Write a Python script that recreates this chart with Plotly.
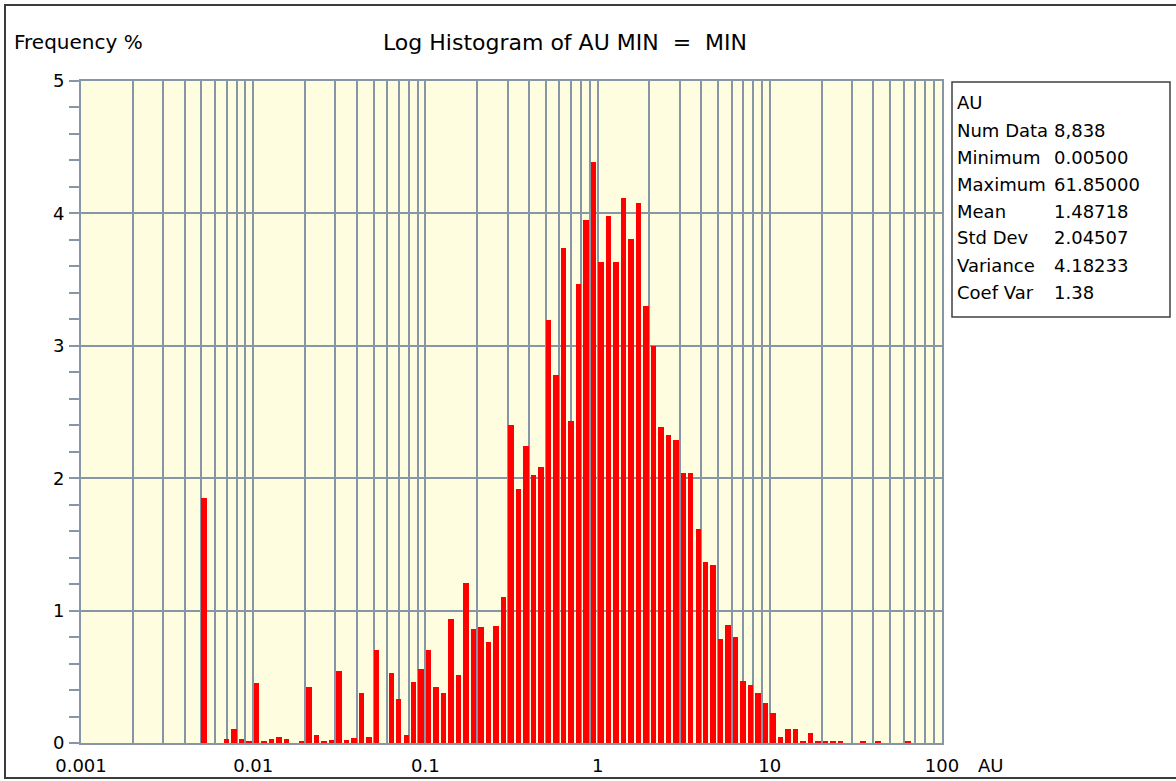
import math
import plotly.graph_objects as go

# ---------------- data ----------------
bin_start = 0.005          # lower edge of first bin (AU)
bins_per_decade = 23       # log bins per decade
freq_pct = [
    1.85, 0, 0, 0.03, 0.105, 0.03, 0.015, 0.455, 0.01, 0.03,
    0.045, 0.03, 0, 0.01, 0.42, 0.06, 0.01, 0.025, 0.545, 0.025,
    0.04, 0.375, 0.045, 0.70, 0, 0.525, 0.33, 0.06, 0.46, 0.56,
    0.70, 0.42, 0.375, 0.94, 0.51, 1.205, 0.86, 0.875, 0.765, 0.885,
    1.10, 2.405, 1.92, 2.24, 2.025, 2.085, 3.195, 2.78, 3.735, 2.435,
    3.465, 3.95, 4.385, 3.63, 3.98, 3.63, 4.115, 3.81, 4.075, 3.30,
    3.0, 2.39, 2.33, 2.285, 2.04, 2.04, 1.615, 1.37, 1.345, 0.785,
    0.89, 0.80, 0.47, 0.44, 0.375, 0.30, 0.225, 0.043, 0.103, 0.103,
    0.01, 0.075, 0.01, 0.01, 0.01, 0.01, 0, 0, 0.01, 0,
    0.01, 0, 0, 0, 0.01,
]
x_tick_labels = ["0.001", "0.01", "0.1", "1", "10", "100"]
y_tick_labels = ["0", "1", "2", "3", "4", "5"]
stat_names = ["AU", "Num Data", "Minimum", "Maximum", "Mean", "Std Dev", "Variance", "Coef Var"]
stat_values = ["", "8,838", "0.00500", "61.85000", "1.48718", "2.04507", "4.18233", "1.38"]
title_text = "Log Histogram of AU MIN\u00a0\u00a0=\u00a0\u00a0MIN"

# ---------------- geometry / style ----------------
W, H = 1176, 781
L, R, T, B = 81, 942, 81, 743
FONT = "DejaVu Sans, Verdana, sans-serif"
GRID = "#8796A6"
BG = "#FFFDE0"
BAR_FRAC = 0.73  # fraction of bin occupied by the bar


def px(x):
    return (x - L) / (R - L)


def py(y):
    return (B - y) / (B - T)


step = 1.0 / bins_per_decade
left_edges = [bin_start * 10 ** (k * step) for k in range(len(freq_pct))]
bar_widths = [e * (10 ** (step * BAR_FRAC) - 1) for e in left_edges]

fig = go.Figure()
fig.add_trace(go.Bar(
    x=left_edges, y=freq_pct, offset=0, width=bar_widths,
    marker=dict(color="#FF0000", line=dict(width=0)),
    hoverinfo="x+y", showlegend=False,
))

x_tickvals, x_ticktext = [], []
for e in range(-3, 2):
    for m in range(1, 10):
        x_tickvals.append(m * 10 ** e)
        x_ticktext.append(x_tick_labels[e + 3] if m == 1 else "")
x_tickvals.append(100)
x_ticktext.append(x_tick_labels[-1])

fig.update_layout(
    width=W, height=H, autosize=False,
    margin=dict(l=L, r=W - R, t=T, b=H - B, pad=0, autoexpand=False),
    paper_bgcolor="white", plot_bgcolor=BG,
    bargap=0,
    font=dict(family=FONT, size=18, color="black"),
    xaxis=dict(
        type="log", range=[-3, 2], automargin=False,
        tickmode="array", tickvals=x_tickvals, ticktext=x_ticktext,
        showgrid=True, gridcolor=GRID, gridwidth=2,
        showline=True, linecolor=GRID, linewidth=2, mirror=True,
        ticks="", zeroline=False, ticklabelstandoff=5,
        tickfont=dict(family=FONT, size=18, color="black"),
    ),
    yaxis=dict(
        range=[0, 5], automargin=False,
        tickmode="array", tickvals=[0, 1, 2, 3, 4, 5], ticktext=y_tick_labels,
        showgrid=True, gridcolor=GRID, gridwidth=2,
        showline=True, linecolor=GRID, linewidth=2, mirror=True,
        ticks="", zeroline=False, ticklabelstandoff=11,
        minor=dict(dtick=0.2, tick0=0, ticks="outside", ticklen=10, tickwidth=2,
                   tickcolor=GRID, showgrid=False),
        tickfont=dict(family=FONT, size=18, color="black"),
    ),
)

shapes = [
    # outer frame
    dict(type="rect", xref="paper", yref="paper", x0=px(5), x1=px(1190), y0=py(5), y1=py(778),
         line=dict(color="#3C3C3C", width=2), fillcolor="rgba(0,0,0,0)", layer="below"),
    # stats box
    dict(type="rect", xref="paper", yref="paper", x0=px(952), x1=px(1170), y0=py(82), y1=py(317),
         line=dict(color="#404040", width=1.5), fillcolor="white", layer="below"),
]
fig.update_layout(shapes=shapes)

ann = [
    dict(text=title_text, x=px(381), y=py(42), xanchor="left", yanchor="middle",
         font=dict(size=22)),
    dict(text="Frequency %", x=px(12), y=py(42), xanchor="left", yanchor="middle",
         font=dict(size=20)),
    dict(text="AU", x=px(976), y=py(765), xanchor="left", yanchor="middle",
         font=dict(size=18)),
]
for i, (n, v) in enumerate(zip(stat_names, stat_values)):
    yy = py(103 + 27 * i)
    ann.append(dict(text=n, x=px(955), y=yy, xanchor="left", yanchor="middle", font=dict(size=18)))
    if v:
        ann.append(dict(text=v, x=px(1052), y=yy, xanchor="left", yanchor="middle", font=dict(size=18)))
for a in ann:
    a.update(xref="paper", yref="paper", showarrow=False)
fig.update_layout(annotations=ann)

fig.write_html("out.html", config={"displayModeBar": False},
               post_script="document.body.style.margin='0';")
